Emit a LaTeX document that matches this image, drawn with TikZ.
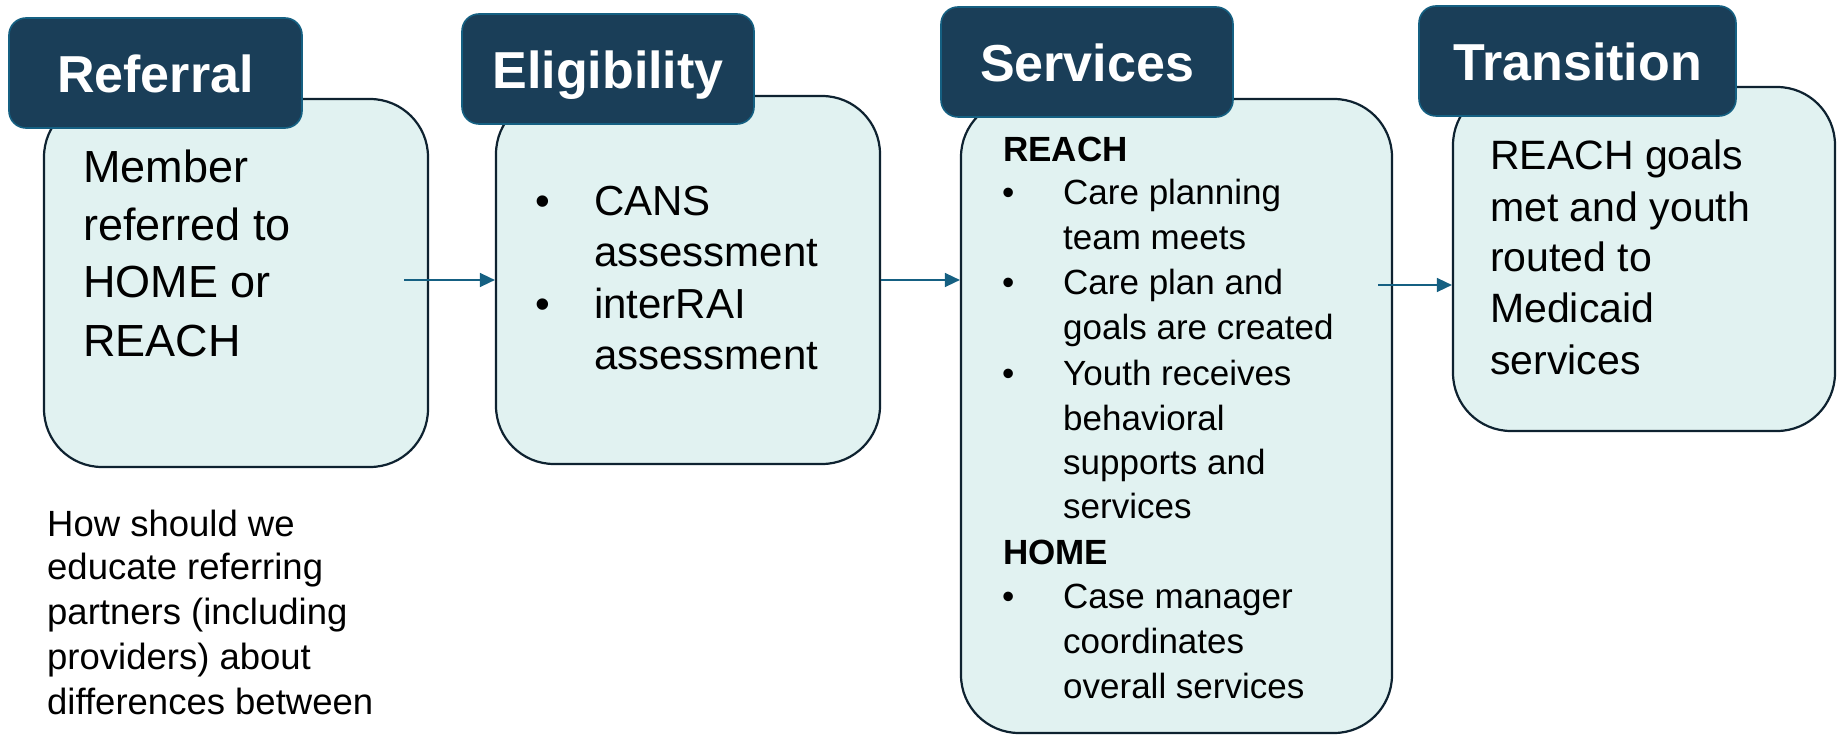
\documentclass[tikz,border=0pt]{standalone}
\usepackage{fontspec}
\setmainfont{Liberation Sans}
\usetikzlibrary{arrows.meta}
\definecolor{tabfill}{HTML}{1A3E58}
\definecolor{tabedge}{HTML}{156082}
\definecolor{lightfill}{HTML}{E1F2F1}
\definecolor{boxedge}{HTML}{0E2230}
\definecolor{arrowcol}{HTML}{156082}
\newcommand{\fsRef}{\fontsize{45}{54}\selectfont}
\newcommand{\fsElig}{\fontsize{42}{50}\selectfont}
\newcommand{\fsServ}{\fontsize{35}{42}\selectfont}
\newcommand{\fsTrans}{\fontsize{41}{49}\selectfont}
\newcommand{\fsNote}{\fontsize{36.5}{44}\selectfont}
\newcommand{\fsTitle}{\fontsize{52}{60}\selectfont\bfseries}
\begin{document}
\begin{tikzpicture}[x=1pt,y=-1pt,
  lightbox/.style={draw=boxedge, line width=2.2pt, fill=lightfill, rounded corners=58pt, inner sep=0pt},
  tabbox/.style={draw=tabedge, line width=1.6pt, fill=tabfill, rounded corners=17pt, inner sep=0pt, minimum height=110pt},
  tabtext/.style={text=white, font=\fsTitle, anchor=base, inner sep=0pt},
  txt/.style={anchor=base west, inner sep=0pt, text=black},
  arr/.style={draw=arrowcol, line width=1.5pt, -{Triangle[length=15pt,width=14pt]}}
]
\useasboundingbox (0,0) rectangle (1842,735);
\fill[white] (0,0) rectangle (1842,735);

% light boxes
\node[lightbox, minimum width=384pt, minimum height=368pt] (refbox) at (236,283) {};
\node[lightbox, minimum width=384pt, minimum height=368pt] (elbox) at (688,280) {};
\node[lightbox, minimum width=431pt, minimum height=634pt] (svbox) at (1176.5,416) {};
\node[lightbox, minimum width=382pt, minimum height=344pt] (trbox) at (1644,259) {};

% tabs
\node[tabbox, minimum width=293pt] (reftab) at (155.5,73) {};
\node[tabbox, minimum width=292pt] (eltab) at (608,69) {};
\node[tabbox, minimum width=292pt] (svtab) at (1087,62) {};
\node[tabbox, minimum width=317pt] (trtab) at (1577.5,61) {};

\node[tabtext] (reftitle) at ([yshift=-19.5pt]reftab.center) {Referral};
\node[tabtext] (eltitle) at ([yshift=-19.5pt]eltab.center) {Eligibility};
\node[tabtext] (svtitle) at ([yshift=-19.5pt]svtab.center) {Services};
\node[tabtext] (trtitle) at ([yshift=-19.5pt]trtab.center) {Transition};

% arrows
\coordinate (a1) at (404,280);
\coordinate (a3) at (1378,285);
\draw[arr] (a1) -- (elbox.west);
\draw[arr] (elbox.east) -- (svbox.west |- elbox.east);
\draw[arr] (a3) -- (trbox.west |- a3);

% Referral text
\node[txt, font=\fsRef] (r1) at (83,183) {Member};
\node[txt, font=\fsRef] (r2) at (83,241) {referred to};
\node[txt, font=\fsRef] (r3) at (83,298) {HOME or};
\node[txt, font=\fsRef] (r4) at (83,356) {REACH};

% Eligibility text
\node[txt, font=\fsElig] (eb1) at (535,216) {•};
\node[txt, font=\fsElig] (e1) at (594,216) {CANS};
\node[txt, font=\fsElig] (e2) at (594,267) {assessment};
\node[txt, font=\fsElig] (eb2) at (535,319) {•};
\node[txt, font=\fsElig] (e3) at (594,319) {interRAI};
\node[txt, font=\fsElig] (e4) at (594,370) {assessment};

% Services text
\node[txt, font=\fsServ\bfseries] (sh1) at (1003,162) {REACH};
\node[txt, font=\fsServ] (sb1) at (1002,205) {•};
\node[txt, font=\fsServ] (s1) at (1063,205) {Care planning};
\node[txt, font=\fsServ] (s2) at (1063,250) {team meets};
\node[txt, font=\fsServ] (sb2) at (1002,295) {•};
\node[txt, font=\fsServ] (s3) at (1063,295) {Care plan and};
\node[txt, font=\fsServ] (s4) at (1063,340) {goals are created};
\node[txt, font=\fsServ] (sb3) at (1002,385) {•};
\node[txt, font=\fsServ] (s5) at (1063,385) {Youth receives};
\node[txt, font=\fsServ] (s6) at (1063,430) {behavioral};
\node[txt, font=\fsServ] (s7) at (1063,474) {supports and};
\node[txt, font=\fsServ] (s8) at (1063,518) {services};
\node[txt, font=\fsServ\bfseries] (sh2) at (1003,564) {HOME};
\node[txt, font=\fsServ] (sb4) at (1002,608) {•};
\node[txt, font=\fsServ] (s9) at (1063,608) {Case manager};
\node[txt, font=\fsServ] (s10) at (1063,653) {coordinates};
\node[txt, font=\fsServ] (s11) at (1063,698) {overall services};

% Transition text
\node[txt, font=\fsTrans] (t1) at (1490,170) {REACH goals};
\node[txt, font=\fsTrans] (t2) at (1490,222) {met and youth};
\node[txt, font=\fsTrans] (t3) at (1490,272) {routed to};
\node[txt, font=\fsTrans] (t4) at (1490,323) {Medicaid};
\node[txt, font=\fsTrans] (t5) at (1490,374) {services};

% Note below
\node[txt, font=\fsNote] (n1) at (47,536) {How should we};
\node[txt, font=\fsNote] (n2) at (47,579) {educate referring};
\node[txt, font=\fsNote] (n3) at (47,624) {partners (including};
\node[txt, font=\fsNote] (n4) at (47,669) {providers) about};
\node[txt, font=\fsNote] (n5) at (47,714) {differences between};
\end{tikzpicture}
\end{document}
